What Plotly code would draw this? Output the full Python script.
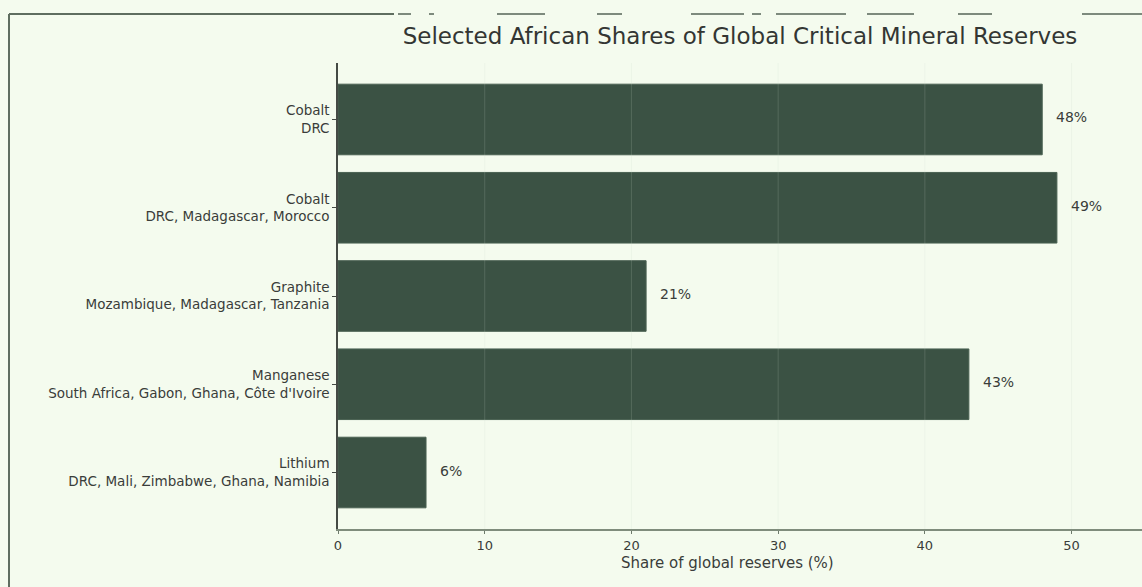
import plotly.graph_objects as go

minerals = ["Cobalt", "Cobalt", "Graphite", "Manganese", "Lithium"]
countries = ["DRC", "DRC, Madagascar, Morocco", "Mozambique, Madagascar, Tanzania",
             "South Africa, Gabon, Ghana, Côte d'Ivoire", "DRC, Mali, Zimbabwe, Ghana, Namibia"]
shares = [48, 49, 21, 43, 6]
x_ticks = [0, 10, 20, 30, 40, 50]

labels = [f"{m}<br>{c}" for m, c in zip(minerals, countries)]
ypos = list(range(len(shares)))

BG = "#f4fbee"
BAR = "#3b5244"
TXT = "#3a3d3a"
FONT = "DejaVu Sans"

fig = go.Figure()
fig.add_trace(go.Bar(
    x=shares, y=ypos, orientation="h", width=0.8,
    marker=dict(color=BAR, line=dict(color="#4a6152", width=1)),
    hoverinfo="skip", showlegend=False,
))

for v, y in zip(shares, ypos):
    fig.add_annotation(x=v + 1, y=y, text=f"{v}%", showarrow=False,
                       xanchor="left", yanchor="middle", yshift=2, xshift=-3,
                       font=dict(family=FONT, size=14, color=TXT))

# faint gridlines drawn over bars
for t in x_ticks[1:]:
    fig.add_shape(type="line", xref="x", yref="paper", x0=t, x1=t, y0=0, y1=1,
                  line=dict(color="rgba(200,215,200,0.18)", width=1), layer="above")

# outer frame fragments (top and left border)
frame_col = "#5f6e60"
W, H = 1142, 587
def px_line(x0, y0, x1, y1, col=frame_col, w=2):
    fig.add_shape(type="line", xref="paper", yref="paper",
                  x0=(x0 - 338) / (W - 338), x1=(x1 - 338) / (W - 338),
                  y0=(529 - y0) / (529 - 63), y1=(529 - y1) / (529 - 63),
                  line=dict(color=col, width=w), layer="above")

px_line(9, 14, 9, 587)
px_line(9, 14, 394, 14)
for a, b in [(398, 411), (429, 434), (497, 545), (597, 622), (691, 744), (752, 761),
             (776, 846), (867, 914), (958, 992), (1082, 1142)]:
    px_line(a, 14, b, 14, col="#7d8a7d")

# x-axis title
fig.add_annotation(text="Share of global reserves (%)", xref="paper", yref="paper",
                   x=(727 - 338) / (W - 338), y=(529 - 563) / (529 - 63),
                   xanchor="center", yanchor="middle", showarrow=False,
                   font=dict(family=FONT, size=15, color=TXT))

fig.update_layout(
    width=W, height=H,
    paper_bgcolor=BG, plot_bgcolor=BG,
    margin=dict(l=338, r=0, t=63, b=58),
    title=dict(text="Selected African Shares of Global Critical Mineral Reserves",
               x=(338 + 1142) / 2 / W, xanchor="center", y=1 - 36 / H, yanchor="middle",
               font=dict(family=FONT, size=23, color="#333633")),
    font=dict(family=FONT, size=12, color=TXT),
    bargap=0.2,
)
fig.update_xaxes(
    range=[0, 54.8], tickvals=x_ticks, ticktext=[str(t) for t in x_ticks],
    showgrid=False, zeroline=False,
    showline=True, linecolor="#7f8c7c", linewidth=2,
    ticks="outside", ticklen=3, tickcolor="#6d7a6b", tickwidth=1,
    tickfont=dict(family=FONT, size=13, color=TXT),
)
fig.update_yaxes(
    range=[4.64, -0.64], tickvals=ypos, ticktext=labels,
    showgrid=False, zeroline=False,
    showline=True, linecolor="#444a44", linewidth=1.5,
    ticks="outside", ticklen=4, tickcolor="#444a44", tickwidth=1,
    tickfont=dict(family=FONT, size=13.5, color=TXT),
)

fig.write_html("out.html", config={"displayModeBar": False},
               post_script="document.body.style.margin='0px';document.body.style.background='" + BG + "';")
